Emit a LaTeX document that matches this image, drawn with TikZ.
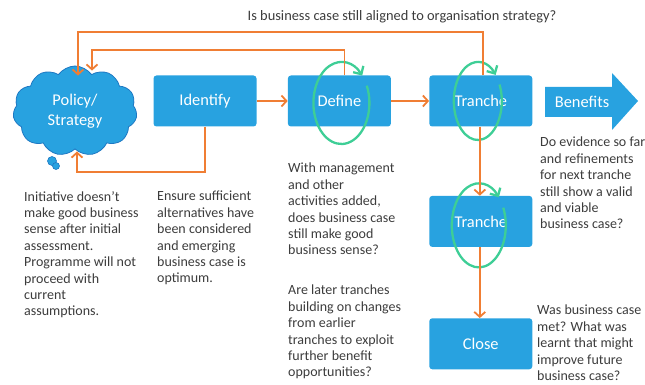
\documentclass[tikz,border=0pt]{standalone}
\usepackage{fontspec}
\setmainfont{Carlito}
\usetikzlibrary{positioning, shapes.symbols, arrows.meta}

\definecolor{stageblue}{RGB}{40,162,224}
\definecolor{cloudedge}{RGB}{30,120,195}
\definecolor{flowline}{RGB}{240,126,52}
\definecolor{loopgreen}{RGB}{62,206,150}
\definecolor{notegrey}{RGB}{60,60,60}

\tikzset{
  stage/.style={rectangle, rounded corners=3pt, fill=stageblue, text=white,
    minimum width=103pt, minimum height=51pt, inner sep=0pt,
    font=\fontsize{16.4}{19}\selectfont},
  flow/.style={draw=flowline, line width=1.8pt,
    -{Straight Barb[length=5pt,width=11pt]}},
  reviewloop/.style={draw=loopgreen, line width=2.3pt,
    -{Straight Barb[length=6pt,width=12pt]}},
  note/.style={anchor=north west, align=left, inner sep=0pt, text=notegrey,
    font=\fontsize{14}{16.4}\selectfont},
}

\begin{document}
\begin{tikzpicture}[x=1pt,y=-1pt]
  \useasboundingbox (0,0) rectangle (645,385);

  % stages
  \node [cloud, cloud puffs=11, cloud puff arc=110, aspect=1.4,
    fill=stageblue, draw=cloudedge, line width=0.8pt, text=white,
    minimum width=124pt, minimum height=90pt, align=center,
    font=\fontsize{16.4}{20}\selectfont] (policy) at (75,111) {Policy/\\Strategy};
  \fill [stageblue, draw=cloudedge, line width=0.6pt] (52,161) circle (4.5pt);
  \fill [stageblue, draw=cloudedge, line width=0.6pt] (56,166) circle (3.5pt);
  \node [stage] (identify) at (205,101) {Identify};
  \node [stage, right=31pt of identify] (define) {Define};
  \node [stage, right=38pt of define] (tranche1) {Tranche};
  \node [stage, below=69pt of tranche1] (tranche2) {Tranche};
  \node [stage, below=71pt of tranche2] (close) {Close};

  % benefits arrow
  \fill [stageblue] (545,87) -- (612,87) -- (612,73) -- (638,101)
    -- (612,130) -- (612,117) -- (545,117) -- cycle;
  \node [text=white, font=\fontsize{16.4}{19}\selectfont] (benefits) at (582,102) {Benefits};

  % review loops
  \foreach \stagename/\dx/\dy/\rx/\ry in {define/2/2/28/41, tranche1/-3/0/24/39, tranche2/-2/4/27/42}
    \draw [reviewloop] ([xshift=\dx pt, yshift=-\dy pt]\stagename.center)
      ++(25:\rx pt and \ry pt)
      arc [start angle=25, end angle=-318, x radius=\rx pt, y radius=\ry pt];

  % flow
  \draw [flow] (identify) -- (define);
  \draw [flow] (define) -- (tranche1);
  \draw [flow] ([xshift=-1pt]tranche1.south) -- ([xshift=-1pt]tranche2.north);
  \draw [flow] ([xshift=-1pt]tranche2.south) -- ([xshift=-1pt]close.north);
  \draw [flow] (identify.south) -- ++(0,45) -| ([xshift=2pt,yshift=-2pt]policy.south);
  \draw [flow] ([xshift=2pt]tranche1.north) -- ++(0,-43) -| ([xshift=3pt,yshift=-10pt]policy.north);
  \draw [flow] ([xshift=5pt]define.north) -- ++(0,-25) -| ([xshift=17pt,yshift=-5pt]policy.north);

  % questions
  \node [text=notegrey, font=\fontsize{14.4}{17}\selectfont] (aligned) at (402,17)
    {Is business case still aligned to organisation strategy?};
  \node [note] (initial) at (24,191) {Initiative doesn’t\\make good business\\sense after initial\\assessment.\\Programme will not\\proceed with\\current\\assumptions.};
  \node [note] (options) at (157,191) {Ensure sufficient\\alternatives have\\been considered\\and emerging\\business case is\\optimum.};
  \node [note] (sense) at (288,163) {With management\\and other\\activities added,\\does business case\\still make good\\business sense?};
  \node [note] (later) at (288,285) {Are later tranches\\building on changes\\from earlier\\tranches to exploit\\further benefit\\opportunities?};
  \node [note] (valid) at (540,137) {Do evidence so far\\and refinements\\for next tranche\\still show a valid\\and viable\\business case?};
  \node [note] (met) at (537,305) {Was business case\\met? What was\\learnt that might\\improve future\\business case?};
\end{tikzpicture}
\end{document}
